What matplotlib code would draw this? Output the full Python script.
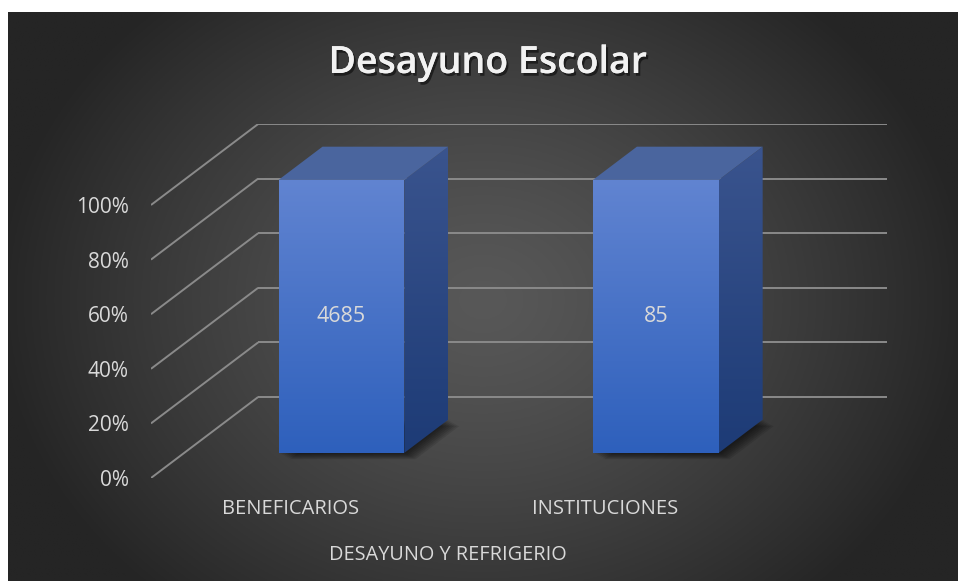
import numpy as np
import matplotlib
matplotlib.use("Agg")
import matplotlib.pyplot as plt
from matplotlib.patches import Polygon
from matplotlib import transforms
import matplotlib.patheffects as pe

# ---------------- data ----------------
title = "Desayuno Escolar"
categories = ["BENEFICARIOS", "INSTITUCIONES"]
values = [4685, 85]
shares = [1.0, 1.0]          # 100% stacked column -> each bar fills 100%
yticks = [0.0, 0.2, 0.4, 0.6, 0.8, 1.0]
ytick_labels = ["0%", "20%", "40%", "60%", "80%", "100%"]
axis_title = "DESAYUNO Y REFRIGERIO"

# ---------------- style / layout ----------------
W, H = 958, 581
FONT = "Open Sans"
TXT = "#d9d9d9"
GRID = "#8a8a8a"
DX, DY = 0.3408, 0.2967      # full-depth oblique offset in data units
D0, DD = 0.31, 0.41          # bar front depth and bar depth (fraction)
BW = 0.40                    # bar width
LABEL_SHIFT = -0.055

fig = plt.figure(figsize=(W / 100, H / 100), dpi=100)
fig.patch.set_facecolor("white")

# background radial gradient
bg = fig.add_axes([8 / W, 0, (W - 8) / W, (H - 12) / H])
bg.set_axis_off()
gx = np.linspace(8, W, 400)
gy = np.linspace(12, H, 250)
XX, YY = np.meshgrid(gx, gy)
cx, cy, rx, ry = 483, 300, 490, 400
r = np.clip(np.sqrt(((XX - cx) / rx) ** 2 + ((YY - cy) / ry) ** 2), 0, 1)
c_in, c_out = np.array([88, 88, 88]) / 255, np.array([37, 37, 37]) / 255
img = c_in[None, None, :] * (1 - r[..., None] ** 1.3) + c_out[None, None, :] * (r[..., None] ** 1.3)
bg.imshow(img, extent=[0, 1, 0, 1], aspect="auto", origin="upper")
bg.set_xlim(0, 1)
bg.set_ylim(0, 1)

# main axes: front plane, x = category index, y = share
ax = fig.add_axes([151 / W, (H - 478) / H, 736 / W, 354 / H])
ax.patch.set_alpha(0)
xmin, xmax = -0.5, len(categories) - 0.5
ax.set_xlim(xmin, xmax + DX)
ax.set_ylim(0, 1 + DY)
for s in ax.spines.values():
    s.set_visible(False)

# gridlines: left wall diagonals + back wall horizontals
for t in yticks:
    ax.plot([xmin, xmin + DX], [t, t + DY], color=GRID, lw=1.4, solid_capstyle="butt", zorder=1)
    ax.plot([xmin + DX, xmax + DX], [t + DY, t + DY], color=GRID, lw=1.4, solid_capstyle="butt", zorder=1)

ax.set_yticks(yticks, ytick_labels)
ax.set_xticks([])
ax.tick_params(axis="y", length=0, pad=16, labelsize=15, labelcolor=TXT)
for lab in ax.get_yticklabels():
    lab.set_fontfamily(FONT)

def gradient_fill(poly_xy, top_rgb, bot_rgb, z):
    poly = Polygon(poly_xy, closed=True, facecolor="none", edgecolor="none", zorder=z)
    ax.add_patch(poly)
    xs = [p[0] for p in poly_xy]
    ys = [p[1] for p in poly_xy]
    grad = np.linspace(0, 1, 256)[:, None]
    top = np.array(top_rgb) / 255
    bot = np.array(bot_rgb) / 255
    im_arr = top[None, None, :] * (1 - grad[..., None]) + bot[None, None, :] * grad[..., None]
    im_arr = np.repeat(im_arr, 2, axis=1)
    im = ax.imshow(im_arr, extent=[min(xs), max(xs), min(ys), max(ys)],
                   aspect="auto", origin="upper", zorder=z, interpolation="bilinear")
    im.set_clip_path(poly)

sx, sy = D0 * DX, D0 * DY
ddx, ddy = DD * DX, DD * DY

bars = ax.bar([i + sx for i in range(len(categories))], shares, width=BW, bottom=sy,
              color="none", edgecolor="none", zorder=3)

for i, (b, v) in enumerate(zip(bars, values)):
    xl = b.get_x()
    xr = xl + b.get_width()
    y0 = b.get_y()
    y1 = y0 + b.get_height()
    # shadow on the floor
    for k in range(1, 8):
        tr = transforms.offset_copy(ax.transData, fig=fig, x=1.6 * k, y=-0.9 * k, units="dots")
        sh = Polygon([(xl, y0), (xr, y0), (xr + ddx, y0 + ddy), (xl + ddx, y0 + ddy)],
                     closed=True, facecolor="black", edgecolor="none", alpha=0.10,
                     transform=tr, zorder=2)
        ax.add_patch(sh)
    # front face
    gradient_fill([(xl, y0), (xr, y0), (xr, y1), (xl, y1)], (97, 132, 209), (46, 96, 188), 4)
    # side face
    gradient_fill([(xr, y0), (xr + ddx, y0 + ddy), (xr + ddx, y1 + ddy), (xr, y1)],
                  (58, 84, 142), (29, 59, 118), 4)
    # top face
    ax.add_patch(Polygon([(xl, y1), (xr, y1), (xr + ddx, y1 + ddy), (xl + ddx, y1 + ddy)],
                         closed=True, facecolor="#4a659e", edgecolor="none", zorder=4))
    # data label
    ax.text((xl + xr) / 2, (y0 + y1) / 2, f"{v}", ha="center", va="center",
            color=TXT, fontsize=15.5, fontfamily=FONT, zorder=6)
    # category label
    ax.text(i + LABEL_SHIFT, -0.112, categories[i], ha="center", va="center",
            color=TXT, fontsize=14.5, fontfamily=FONT, zorder=6)

ax.set_xlim(xmin, xmax + DX)
ax.set_ylim(0, 1 + DY)

fig.text(448 / W, 1 - 555.5 / H, axis_title, ha="center", va="center",
         color=TXT, fontsize=14.3, fontfamily=FONT)

fig.text(487.5 / W, 1 - 73 / H, title, ha="center", va="baseline",
         color="#f2f2f2", fontsize=27, fontweight="semibold", fontfamily=FONT,
         path_effects=[pe.withSimplePatchShadow(offset=(1.5, -2), shadow_rgbFace="black", alpha=0.5),
                       pe.Normal()])

fig.savefig("out.png", dpi=100)
